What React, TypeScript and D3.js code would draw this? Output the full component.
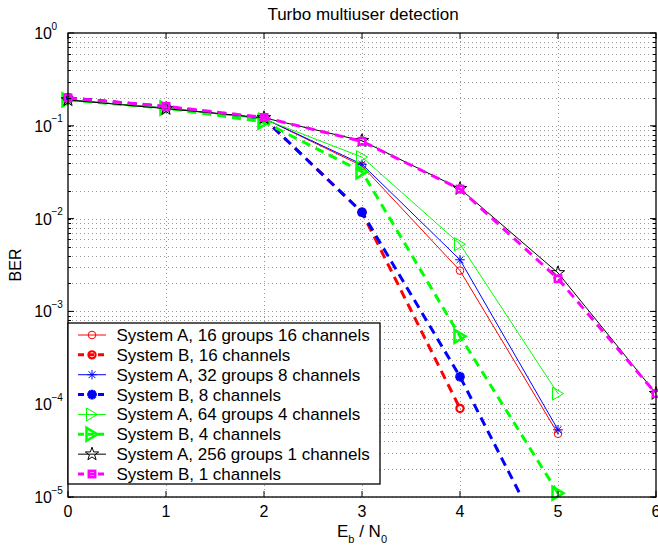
import React, { useEffect, useRef } from 'react';
import * as d3 from 'd3';

// Eb/N0 values (dB)
const ebn0 = [0, 1, 2, 3, 4, 5, 6];

// BER per scheme
const sysA16 = [0.19, 0.155, 0.12, 0.037, 0.00275, 4.8e-5];
const sysB16 = [0.2, 0.16, 0.12, 0.0117, 9.0e-5];
const sysA32 = [0.19, 0.155, 0.12, 0.0385, 0.0036, 5.3e-5];
const sysB8 = [0.2, 0.16, 0.12, 0.0117, 1.98e-4, 1.7e-6];
const sysA64 = [0.19, 0.155, 0.118, 0.046, 0.0053, 1.3e-4];
const sysB4 = [0.19, 0.155, 0.11, 0.032, 5.4e-4, 1.1e-5];
const sysA256 = [0.19, 0.153, 0.122, 0.069, 0.021, 0.0026, 1.3e-4];
const sysB1 = [0.2, 0.162, 0.123, 0.068, 0.0208, 0.00225, 1.3e-4];

const seriesLabels = [
    'System A, 16 groups 16 channels',
    'System B, 16 channels',
    'System A, 32 groups 8 channels',
    'System B, 8 channels',
    'System A, 64 groups 4 channels',
    'System B, 4 channels',
    'System A, 256 groups 1 channels',
    'System B, 1 channels'
];

const xTicks = [0, 1, 2, 3, 4, 5, 6];
const yExponents = [0, -1, -2, -3, -4, -5];

const FONT = '"Liberation Sans", Arial, Helvetica, sans-serif';

const App = () => {
    const svgRef = useRef(null);

    useEffect(() => {
        const width = 658;
        const height = 554;
        const margin = { top: 33, right: 2, bottom: 57, left: 68 };

        const svg = d3.select(svgRef.current)
            .attr('width', width)
            .attr('height', height);
        svg.selectAll('*').remove();

        svg.append('rect').attr('width', width).attr('height', height).attr('fill', '#fff');

        const x = d3.scaleLinear().domain([0, 6]).range([margin.left, width - margin.right]);
        const y = d3.scaleLog().domain([1e-5, 1]).range([height - margin.bottom, margin.top]);
        const [x0, x1] = x.range();
        const [y1, y0] = y.range();

        const series = [
            { label: seriesLabels[0], values: sysA16, color: '#ff0000', dashed: false, marker: 'circle' },
            { label: seriesLabels[1], values: sysB16, color: '#ff0000', dashed: true, marker: 'circle' },
            { label: seriesLabels[2], values: sysA32, color: '#0000ff', dashed: false, marker: 'asterisk' },
            { label: seriesLabels[3], values: sysB8, color: '#0000ff', dashed: true, marker: 'asterisk' },
            { label: seriesLabels[4], values: sysA64, color: '#00ff00', dashed: false, marker: 'triangle' },
            { label: seriesLabels[5], values: sysB4, color: '#00ff00', dashed: true, marker: 'triangle' },
            { label: seriesLabels[6], values: sysA256, color: '#000000', dashed: false, marker: 'star' },
            { label: seriesLabels[7], values: sysB1, color: '#ff00ff', dashed: true, marker: 'square' }
        ];

        //clip for lines
        svg.append('clipPath').attr('id', 'plotclip')
            .append('rect')
            .attr('x', x0).attr('y', y0)
            .attr('width', x1 - x0).attr('height', y1 - y0);

        //grid
        const grid = svg.append('g')
            .attr('stroke', '#9a9a9a')
            .attr('stroke-width', 1)
            .attr('stroke-dasharray', '1,3');
        xTicks.slice(1, -1).forEach(t => {
            grid.append('line')
                .attr('x1', Math.round(x(t)) + 0.5).attr('x2', Math.round(x(t)) + 0.5)
                .attr('y1', y0).attr('y2', y1);
        });
        const minorVals = [];
        yExponents.slice(1).forEach(e => {
            for (let k = 1; k <= 9; k++) minorVals.push(k * Math.pow(10, e));
        });
        minorVals.forEach(v => {
            grid.append('line')
                .attr('x1', x0).attr('x2', x1)
                .attr('y1', Math.round(y(v)) + 0.5).attr('y2', Math.round(y(v)) + 0.5);
        });

        const drawMarker = (g, type, cx, cy, color, bold) => {
            const sw = bold ? 2.5 : 1;
            if (type === 'circle') {
                g.append('circle').attr('cx', cx).attr('cy', cy).attr('r', bold ? 3.6 : 3.8)
                    .attr('fill', 'none').attr('stroke', color).attr('stroke-width', bold ? 2.2 : 1);
            } else if (type === 'asterisk') {
                const r = 4.8;
                const d = r * 0.72;
                const p = `M${cx - r},${cy}L${cx + r},${cy}M${cx},${cy - r}L${cx},${cy + r}` +
                    `M${cx - d},${cy - d}L${cx + d},${cy + d}M${cx - d},${cy + d}L${cx + d},${cy - d}`;
                g.append('path').attr('d', p).attr('fill', 'none')
                    .attr('stroke', color).attr('stroke-width', bold ? 3 : 1);
            } else if (type === 'triangle') {
                const p = `M${cx + 5.5},${cy}L${cx - 5.5},${cy - 6.5}L${cx - 5.5},${cy + 6.5}Z`;
                g.append('path').attr('d', p).attr('fill', 'none')
                    .attr('stroke', color).attr('stroke-width', sw);
            } else if (type === 'star') {
                const pts = d3.range(10).map(i => {
                    const a = -Math.PI / 2 + i * Math.PI / 5;
                    const r = i % 2 === 0 ? 7 : 2.8;
                    return [cx + r * Math.cos(a), cy + r * Math.sin(a)];
                });
                g.append('path').attr('d', 'M' + pts.map(p => p.join(',')).join('L') + 'Z')
                    .attr('fill', 'none').attr('stroke', color).attr('stroke-width', 1);
            } else if (type === 'square') {
                g.append('rect').attr('x', cx - 3.2).attr('y', cy - 3.2)
                    .attr('width', 6.4).attr('height', 6.4)
                    .attr('fill', 'none').attr('stroke', color).attr('stroke-width', sw);
            }
        };

        //data lines + markers
        const line = d3.line()
            .x(d => x(d[0]))
            .y(d => y(d[1]));

        series.forEach(s => {
            const pts = s.values.map((v, i) => [ebn0[i], v]);
            svg.append('path')
                .datum(pts)
                .attr('clip-path', 'url(#plotclip)')
                .attr('fill', 'none')
                .attr('stroke', s.color)
                .attr('stroke-width', s.dashed ? 3 : 1)
                .attr('stroke-dasharray', s.dashed ? '9,6' : null)
                .attr('d', line);
            const mg = svg.append('g');
            pts.filter(p => p[1] >= 1e-5).forEach(p => {
                drawMarker(mg, s.marker, x(p[0]), y(p[1]), s.color, s.dashed);
            });
        });

        //axes box
        svg.append('rect')
            .attr('x', x0).attr('y', y0)
            .attr('width', x1 - x0).attr('height', y1 - y0)
            .attr('fill', 'none').attr('stroke', '#000').attr('stroke-width', 1.3);

        const ticks = svg.append('g').attr('stroke', '#000').attr('stroke-width', 1);
        xTicks.forEach(t => {
            ticks.append('line').attr('x1', x(t)).attr('x2', x(t)).attr('y1', y1).attr('y2', y1 - 6);
            ticks.append('line').attr('x1', x(t)).attr('x2', x(t)).attr('y1', y0).attr('y2', y0 + 6);
        });
        yExponents.forEach(e => {
            const yy = y(Math.pow(10, e));
            ticks.append('line').attr('x1', x0).attr('x2', x0 + 6).attr('y1', yy).attr('y2', yy);
            ticks.append('line').attr('x1', x1).attr('x2', x1 - 6).attr('y1', yy).attr('y2', yy);
        });
        minorVals.forEach(v => {
            const yy = Math.round(y(v)) + 0.5;
            ticks.append('line').attr('x1', x0).attr('x2', x0 + 3).attr('y1', yy).attr('y2', yy);
            ticks.append('line').attr('x1', x1).attr('x2', x1 - 3).attr('y1', yy).attr('y2', yy);
        });

        //tick labels
        xTicks.forEach(t => {
            svg.append('text')
                .attr('x', x(t)).attr('y', y1 + 20)
                .attr('text-anchor', 'middle')
                .attr('font-family', FONT).attr('font-size', '16px')
                .text(t);
        });
        yExponents.forEach(e => {
            const yy = y(Math.pow(10, e));
            svg.append('text')
                .attr('x', 52).attr('y', yy + 6)
                .attr('text-anchor', 'end')
                .attr('font-family', FONT).attr('font-size', '16px')
                .text('10');
            svg.append('text')
                .attr('x', 51.5).attr('y', yy - 3.5)
                .attr('font-family', FONT).attr('font-size', '10px')
                .text(e === 0 ? '0' : '\u2212' + (-e));
        });

        //title
        svg.append('text')
            .attr('x', 363).attr('y', 20)
            .attr('text-anchor', 'middle')
            .attr('font-family', FONT).attr('font-size', '17px')
            .text('Turbo multiuser detection');

        //x label
        const xl = svg.append('text')
            .attr('x', (x0 + x1) / 2).attr('y', 537)
            .attr('text-anchor', 'middle')
            .attr('font-family', FONT).attr('font-size', '17px');
        xl.append('tspan').text('E');
        xl.append('tspan').attr('dy', 6).attr('font-size', '11px').text('b');
        xl.append('tspan').attr('dy', -6).text(' / N');
        xl.append('tspan').attr('dy', 6).attr('font-size', '11px').text('0');

        //y label
        svg.append('text')
            .attr('transform', `translate(21, ${(y0 + y1) / 2}) rotate(-90)`)
            .attr('text-anchor', 'middle')
            .attr('font-family', FONT).attr('font-size', '16px')
            .text('BER');

        //legend
        const lg = svg.append('g');
        lg.append('rect')
            .attr('x', x0).attr('y', 323)
            .attr('width', 312).attr('height', 161)
            .attr('fill', '#fff').attr('stroke', '#000').attr('stroke-width', 1.3);
        series.forEach((s, i) => {
            const cy = 335 + i * 19.86;
            lg.append('line')
                .attr('x1', 78).attr('x2', 106)
                .attr('y1', cy).attr('y2', cy)
                .attr('stroke', s.color)
                .attr('stroke-width', s.dashed ? 3 : 1)
                .attr('stroke-dasharray', s.dashed ? '6,4' : null);
            drawMarker(lg, s.marker, 92, cy, s.color, s.dashed);
            lg.append('text')
                .attr('x', 116.5).attr('y', cy + 6)
                .attr('font-family', FONT).attr('font-size', '17px')
                .text(s.label);
        });
    }, []);

    return (
        <svg ref={svgRef} style={{ position: 'absolute', left: 0, top: 0, display: 'block' }}></svg>
    );
};

export default App;
